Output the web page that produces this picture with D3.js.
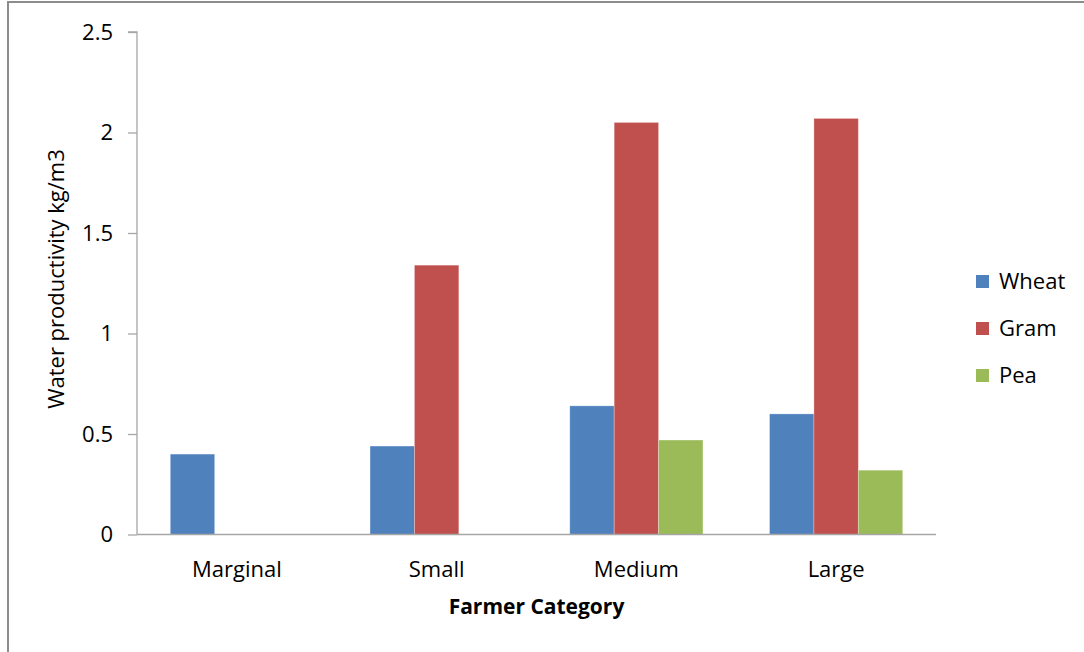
<!DOCTYPE html>
<html>
<head>
<meta charset="utf-8">
<script src="https://cdn.jsdelivr.net/npm/d3@7"></script>
<style>
  html, body { margin: 0; padding: 0; background: #fff; }
  svg { display: block; }
  text { font-family: "Open Sans", Lato, sans-serif; fill: #000; }
</style>
</head>
<body>
<svg id="chart" width="1084" height="652"></svg>
<script>
// Water productivity (kg/m3) by farmer category and crop
const categories = ["Marginal", "Small", "Medium", "Large"];
const seriesNames = ["Wheat", "Gram", "Pea"];
const wheat = [0.40, 0.44, 0.64, 0.60];
const gram  = [0, 1.34, 2.05, 2.07];
const pea   = [0, 0, 0.47, 0.32];
const seriesColors = ["#4F81BD", "#C0504D", "#9BBB59"];
const yTicks = [0, 0.5, 1, 1.5, 2, 2.5];

const seriesValues = [wheat, gram, pea];
const rows = categories.map((c, i) => ({
  category: c,
  values: seriesNames.map((s, j) => ({ series: s, value: seriesValues[j][i], color: seriesColors[j] }))
}));

const svg = d3.select("#chart");

// outer frame
svg.append("line").attr("x1", 8).attr("x2", 1084).attr("y1", 2).attr("y2", 2)
  .attr("stroke", "#8c8c8c").attr("stroke-width", 2);
svg.append("line").attr("x1", 8).attr("x2", 8).attr("y1", 1).attr("y2", 652)
  .attr("stroke", "#8c8c8c").attr("stroke-width", 2);

const plotLeft = 137, plotRight = 936, plotTop = 32, plotBottom = 534.5;

const x0 = d3.scaleBand().domain(categories).range([plotLeft, plotRight])
  .paddingInner(1 / 3).paddingOuter(1 / 6);
const x1 = d3.scaleBand().domain(seriesNames).range([0, x0.bandwidth()]);
const y = d3.scaleLinear().domain([0, 2.5]).range([plotBottom, plotTop]);

// bars
const groups = svg.append("g").selectAll("g").data(rows).join("g")
  .attr("transform", d => `translate(${x0(d.category)},0)`);
groups.selectAll("rect").data(d => d.values.filter(v => v.value > 0)).join("rect")
  .attr("x", d => x1(d.series))
  .attr("y", d => y(d.value))
  .attr("width", x1.bandwidth())
  .attr("height", d => y(0) - y(d.value))
  .attr("fill", d => d.color)
  .attr("stroke", "rgba(255,255,255,0.35)")
  .attr("stroke-width", 0.8);

// y axis
const yAxis = d3.axisLeft(y).tickValues(yTicks).tickSize(9).tickPadding(15)
  .tickFormat(d3.format("~g"));
const gy = svg.append("g").attr("transform", `translate(${plotLeft},0)`).call(yAxis);
gy.attr("font-size", null).attr("font-family", null);
gy.select(".domain").attr("stroke", "#a6a6a6").attr("stroke-width", 1.3)
  .attr("d", `M-9,${plotTop}H0V${plotBottom}`);
gy.selectAll(".tick line").attr("stroke", "#a6a6a6").attr("stroke-width", 1.3);
gy.selectAll(".tick text")
  .attr("dy", "0.34em")
  .style("font-size", "22px")
  .style("font-family", "'Open Sans', sans-serif").attr("fill", "#000");

// x axis baseline
svg.append("line").attr("x1", plotLeft).attr("x2", plotRight).attr("y1", plotBottom).attr("y2", plotBottom)
  .attr("stroke", "#a6a6a6").attr("stroke-width", 1.3);

// category labels
svg.append("g").selectAll("text").data(categories).join("text")
  .attr("x", d => x0(d) + x0.bandwidth() / 2)
  .attr("y", 577)
  .attr("text-anchor", "middle")
  .style("font-size", "22px")
  .text(d => d);

// axis titles
svg.append("text")
  .attr("x", (plotLeft + plotRight) / 2).attr("y", 614)
  .attr("text-anchor", "middle")
  .style("font-size", "21px").style("font-weight", "bold")
  .text("Farmer Category");
svg.append("text")
  .attr("transform", `translate(64,279) rotate(-90)`)
  .attr("text-anchor", "middle")
  .style("font-size", "22px")
  .text("Water productivity kg/m3");

// legend
const legend = svg.append("g").selectAll("g").data(seriesNames).join("g")
  .attr("transform", (d, i) => `translate(976,${281.5 + i * 47})`);
legend.append("rect").attr("x", 0).attr("y", -6.5).attr("width", 13).attr("height", 13)
  .attr("fill", (d, i) => seriesColors[i]);
legend.append("text").attr("x", 23).attr("y", 0).attr("dy", "0.36em")
  .style("font-size", "22px")
  .text(d => d);
</script>
</body>
</html>
